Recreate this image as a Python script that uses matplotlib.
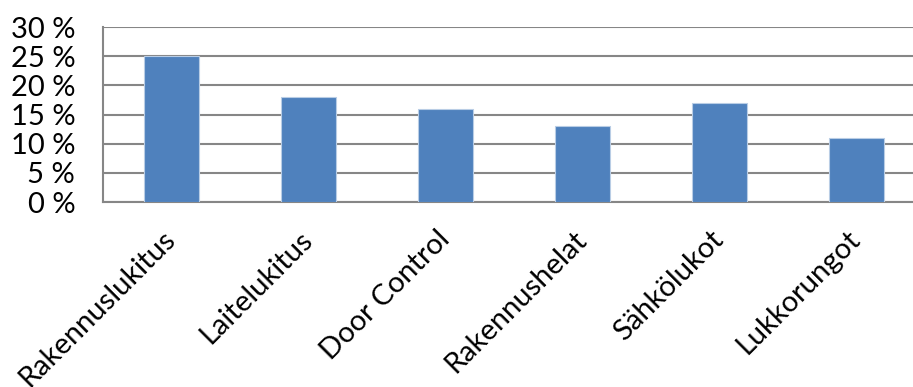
import numpy as np
import matplotlib.pyplot as plt
from matplotlib.ticker import FuncFormatter

kategoriat = ['Rakennuslukitus', 'Laitelukitus', 'Door Control',
              'Rakennushelat', 'Sähkölukot', 'Lukkorungot']
osuudet = [25, 18, 16, 13, 17, 11]   # prosenttia
y_ticks = [0, 5, 10, 15, 20, 25, 30]

plt.rcParams['font.family'] = ['Lato', 'DejaVu Sans']

fig = plt.figure(figsize=(9.13, 3.87), dpi=100)
# oikea reuna jatkuu hieman kuvan ulkopuolelle kuten alkuperäisessä
ax = fig.add_axes([0.1128, 0.478, 0.9003, 0.452])

x = np.arange(len(kategoriat))
ax.bar(x, osuudet, width=0.40, color='#4F81BD', edgecolor='#B9CDE5',
       linewidth=0.8, zorder=3)

ax.set_xlim(-0.5, len(kategoriat) - 0.5)
ax.set_ylim(0, 30)
ax.set_yticks(y_ticks)
ax.yaxis.set_major_formatter(FuncFormatter(lambda v, p: f'{v:.0f} %'))
ax.grid(axis='y', color='#868686', linewidth=1.5, zorder=0)

ax.set_xticks(x)
ax.set_xticklabels(kategoriat, rotation=45, ha='right', va='center',
                   rotation_mode='anchor')
ax.tick_params(axis='both', length=0, labelsize=21, colors='black')
ax.tick_params(axis='y', pad=20)
ax.tick_params(axis='x', pad=24)

for side in ['top', 'right']:
    ax.spines[side].set_visible(False)
for side in ['left', 'bottom']:
    ax.spines[side].set_color('#868686')
    ax.spines[side].set_linewidth(1.5)

fig.savefig('out.png', dpi=100)
